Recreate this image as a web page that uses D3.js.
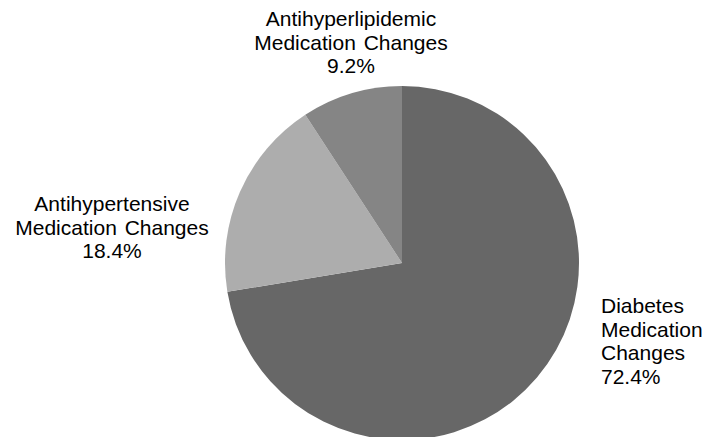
<!DOCTYPE html>
<html>
<head>
<meta charset="utf-8">
<script src="https://cdn.jsdelivr.net/npm/d3@7/dist/d3.min.js"></script>
<style>
  html, body { margin: 0; padding: 0; background: #fff; }
  svg { display: block; }
</style>
</head>
<body>
<div id="chart"></div>
<script>
// slice data, clockwise from 12 o'clock
const categories = ['Diabetes Medication Changes', 'Antihypertensive Medication Changes', 'Antihyperlipidemic Medication Changes'];
const shares = [72.4, 18.4, 9.2];
const labelLines = [
    ['Diabetes', 'Medication', 'Changes', '72.4%'],
    ['Antihypertensive', 'Medication Changes', '18.4%'],
    ['Antihyperlipidemic', 'Medication Changes', '9.2%'],
];

const width = 705;
const height = 437;
const cx = 402;
const cy = 263;
const radius = 177;

// label placement (layout only)
const labelLayout = [
    { x: 601, y: 313, anchor: 'start' },
    { x: 112, y: 211, anchor: 'middle' },
    { x: 351, y: 26, anchor: 'middle' },
];
const lineHeight = 23.7;

const color = d3.scaleOrdinal()
    .domain(categories)
    .range(['#676767', '#adadad', '#858585']);

const svg = d3.select('#chart')
    .append('svg')
    .attr('width', width)
    .attr('height', height);

const pie = d3.pie().sort(null).value((d) => d.value);
const arc = d3.arc().innerRadius(0).outerRadius(radius);

const data = categories.map((c, i) => ({ name: c, value: shares[i], lines: labelLines[i] }));

svg.append('g')
    .attr('transform', `translate(${cx},${cy})`)
    .selectAll('path')
    .data(pie(data))
    .join('path')
    .attr('d', arc)
    .attr('fill', (d) => color(d.data.name));

const labels = svg.append('g')
    .attr('font-family', "'Liberation Sans', Arial, sans-serif")
    .attr('font-size', 21)
    .attr('word-spacing', 2)
    .attr('fill', '#000')
    .selectAll('text')
    .data(data)
    .join('text')
    .attr('text-anchor', (d, i) => labelLayout[i].anchor)
    .attr('x', (d, i) => labelLayout[i].x)
    .attr('y', (d, i) => labelLayout[i].y);

labels.each(function (d, i) {
    d3.select(this)
        .selectAll('tspan')
        .data(d.lines)
        .join('tspan')
        .attr('x', labelLayout[i].x)
        .attr('dy', (l, j) => (j === 0 ? 0 : lineHeight))
        .text((l) => l);
});
</script>
</body>
</html>
